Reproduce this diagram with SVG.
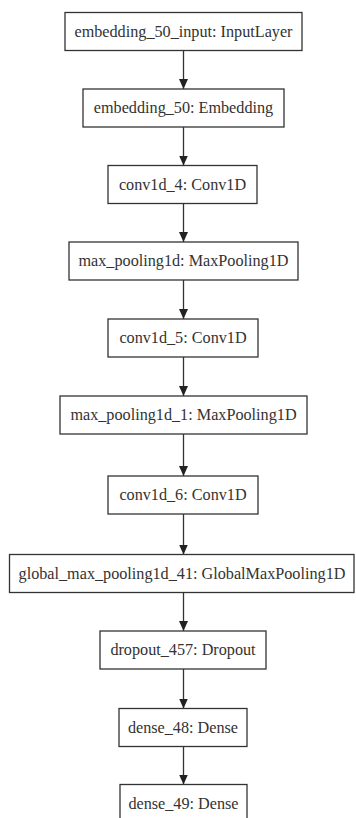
<svg xmlns="http://www.w3.org/2000/svg" width="356" height="818" viewBox="0 0 356 818">
<defs>
<marker id="ah" markerUnits="userSpaceOnUse" markerWidth="10" markerHeight="9" refX="10" refY="4.5" orient="auto">
<path d="M0,0 L10,4.5 L0,9 z" fill="#222"/>
</marker>
<style>
.box{fill:#fff;stroke:#333;stroke-width:1.3}
.lbl{font-family:"Liberation Serif","Times New Roman",serif;font-size:16.2px;fill:#333;text-anchor:middle}
.edge{stroke:#333;stroke-width:1.3;fill:none;marker-end:url(#ah)}
</style>
</defs>
<rect width="356" height="818" fill="#fff"/>
<g id="connectors">
<line class="edge" x1="183.5" y1="50.5" x2="183.5" y2="89"/>
<line class="edge" x1="183.5" y1="127" x2="183.5" y2="165.5"/>
<line class="edge" x1="183.5" y1="203.5" x2="183.5" y2="242"/>
<line class="edge" x1="183.5" y1="280" x2="183.5" y2="319"/>
<line class="edge" x1="183.5" y1="357" x2="183.5" y2="396"/>
<line class="edge" x1="183.5" y1="434" x2="183.5" y2="476"/>
<line class="edge" x1="183.5" y1="514" x2="183.5" y2="554.5"/>
<line class="edge" x1="183.5" y1="592.5" x2="183.5" y2="631"/>
<line class="edge" x1="183.5" y1="669" x2="183.5" y2="708.5"/>
<line class="edge" x1="183.5" y1="746.5" x2="183.5" y2="784.5"/>
</g>
<g id="n1"><rect class="box" x="65" y="12.5" width="237" height="38"/><text class="lbl" x="183.5" y="36.5">embedding_50_input: InputLayer</text></g>
<g id="n2"><rect class="box" x="83" y="89" width="201" height="38"/><text class="lbl" x="183.5" y="113">embedding_50: Embedding</text></g>
<g id="n3"><rect class="box" x="108" y="165.5" width="149" height="38"/><text class="lbl" x="182.5" y="189.5">conv1d_4: Conv1D</text></g>
<g id="n4"><rect class="box" x="69" y="242" width="229" height="38"/><text class="lbl" x="183.5" y="266">max_pooling1d: MaxPooling1D</text></g>
<g id="n5"><rect class="box" x="108" y="319" width="150" height="38"/><text class="lbl" x="183" y="343">conv1d_5: Conv1D</text></g>
<g id="n6"><rect class="box" x="60" y="396" width="247" height="38"/><text class="lbl" x="183.5" y="420">max_pooling1d_1: MaxPooling1D</text></g>
<g id="n7"><rect class="box" x="108" y="476" width="150" height="38"/><text class="lbl" x="183" y="500">conv1d_6: Conv1D</text></g>
<g id="n8"><rect class="box" x="9.5" y="554.5" width="344.5" height="38"/><text class="lbl" x="182" y="578.5">global_max_pooling1d_41: GlobalMaxPooling1D</text></g>
<g id="n9"><rect class="box" x="100" y="631" width="166" height="38"/><text class="lbl" x="183" y="655">dropout_457: Dropout</text></g>
<g id="n10"><rect class="box" x="119" y="708.5" width="128" height="38"/><text class="lbl" x="183" y="732.5">dense_48: Dense</text></g>
<g id="n11"><rect class="box" x="120" y="784.5" width="127" height="38"/><text class="lbl" x="183.5" y="808.5">dense_49: Dense</text></g>
</svg>
